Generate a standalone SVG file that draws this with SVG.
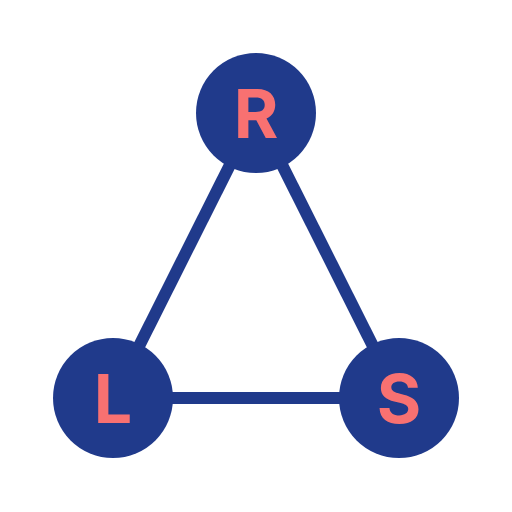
<svg xmlns="http://www.w3.org/2000/svg" width="512" height="512" viewBox="0 0 512 512">
<style>
.edge{stroke:#203a8b;stroke-width:12;fill:none}
.node circle{fill:#203a8b}
.node text{fill:#f87171;font-family:Inter,"Liberation Sans",sans-serif;font-weight:700;font-size:68px;text-anchor:middle}
</style>
<rect width="512" height="512" fill="#ffffff"/>
<g id="connectors">
<line class="edge" x1="256" y1="113" x2="113" y2="398"/>
<line class="edge" x1="256" y1="113" x2="399" y2="398"/>
<line class="edge" x1="113" y1="398" x2="399" y2="398"/>
</g>
<g id="node-R" class="node"><circle cx="256" cy="113" r="60"/><text x="256" y="138">R</text></g>
<g id="node-L" class="node"><circle cx="113" cy="398" r="60"/><text x="113" y="423">L</text></g>
<g id="node-S" class="node"><circle cx="399" cy="398" r="60"/><text x="399" y="423">S</text></g>
</svg>
